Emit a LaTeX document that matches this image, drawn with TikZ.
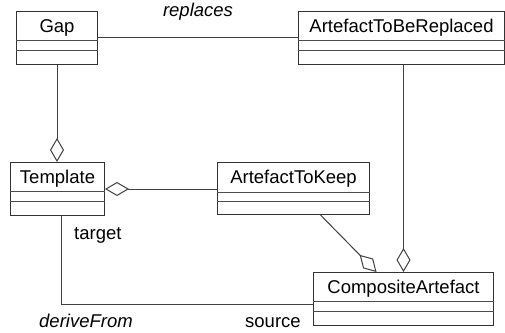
\documentclass[tikz,border=0pt]{standalone}
\usepackage{fontspec}
\setmainfont{Liberation Sans}
\usetikzlibrary{arrows.meta}

\tikzset{
  classbox/.style={draw=black!80, line width=1pt, fill=white, inner sep=0pt, rectangle},
  divider/.style={draw=black!70, line width=1pt},
  labelfont/.style={font=\fontsize{18.5}{20}\selectfont},
  italicfont/.style={font=\fontsize{18.5}{20}\selectfont\itshape},
  classname/.style={labelfont, inner sep=0pt, anchor=base},
  rolelabel/.style={labelfont, inner sep=0pt, anchor=base west},
  assoc/.style={draw=black!75, line width=1pt},
  aggend/.style={assoc, -{Diamond[open, length=24pt, width=14pt, line width=1pt]}},
  aggstart/.style={assoc, {Diamond[open, length=24pt, width=14pt, line width=1pt]}-},
}

% #1 node name, #2 left, #3 top, #4 width, #5 height,
% #6 first divider offset, #7 second divider offset, #8 class name
\newcommand\umlclass[8]{%
  \node[classbox, minimum width=#4pt, minimum height=#5pt, anchor=north west] (#1) at (#2,#3) {};
  \draw[divider] ([yshift=-#6pt]#1.north west) -- ([yshift=-#6pt]#1.north east);
  \draw[divider] ([yshift=-#7pt]#1.north west) -- ([yshift=-#7pt]#1.north east);
  \node[classname] (#1-name) at ([yshift=-21.5pt]#1.north) {#8};
}

\begin{document}
\begin{tikzpicture}[x=1pt, y=-1pt]
  \useasboundingbox (0,0) rectangle (505,332);

  % classes
  \umlclass{gap}{16}{11}{81}{53}{29}{39}{Gap}
  \umlclass{atbr}{298}{11}{206}{53}{29}{39}{ArtefactToBeReplaced}
  \umlclass{tmpl}{10}{162}{94}{53}{29}{39}{Template}
  \umlclass{atk}{217}{162}{152}{52}{30}{39}{ArtefactToKeep}
  \umlclass{comp}{313}{272}{180}{53}{29}{39}{CompositeArtefact}

  % associations
  \draw[assoc] ([yshift=-26pt]gap.north east) -- ([yshift=-26pt]atbr.north west);
  \node[italicfont, inner sep=0pt, anchor=base] (replaces) at (198,16.5) {replaces};

  \draw[aggend] (gap.south) -- (gap.south |- tmpl.north);
  \draw[aggstart] (tmpl.east) -- (tmpl.east -| atk.west);
  \draw[aggend] (atbr.south -| comp.north) -- (comp.north);
  \draw[aggend] ([xshift=27pt]atk.south) -- ([xshift=-27pt]comp.north);

  \draw[assoc] ([xshift=4pt]tmpl.south) |- ([yshift=-5.5pt]comp.west);
  \node[rolelabel] (target) at (74,239) {target};
  \node[italicfont, inner sep=0pt, anchor=base west] (derive) at (39,327) {deriveFrom};
  \node[rolelabel] (source) at (245,327) {source};
\end{tikzpicture}
\end{document}
